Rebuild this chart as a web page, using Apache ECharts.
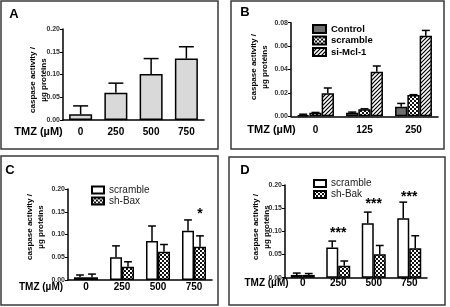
<!DOCTYPE html>
<html>
<head>
<meta charset="utf-8">
<script src="https://cdn.jsdelivr.net/npm/echarts@6/dist/echarts.min.js"></script>
<style>
  html, body { margin: 0; padding: 0; background: #fff; }
  #chart { width: 450px; height: 307px; }
</style>
</head>
<body>
<div id="chart"></div>
<script>
const FONT = '"Liberation Sans", Arial, sans-serif'

// panel A
const catsA = ['0', '250', '500', '750']
const meanA = [0.0125, 0.060, 0.101, 0.135]
const errA = [0.0185, 0.021, 0.034, 0.026]

// panel B
const catsB = ['0', '125', '250']
const ctrlB = [0.001, 0.003, 0.0082]
const ctrlErrB = [0.0008, 0.0006, 0.0028]
const scrB = [0.003, 0.006, 0.0182]
const scrErrB = [0.0003, 0.0004, 0.0003]
const siB = [0.0197, 0.038, 0.0689]
const siErrB = [0.0045, 0.005, 0.0045]

// panel C
const catsC = ['0', '250', '500', '750']
const scrC = [0.006, 0.050, 0.0857, 0.108]
const scrErrC = [0.005, 0.025, 0.033, 0.024]
const baxC = [0.006, 0.029, 0.062, 0.073]
const baxErrC = [0.007, 0.011, 0.016, 0.024]
const starsC = [[3, 0.145, '*']]

// panel D
const catsD = ['0', '250', '500', '750']
const scrD = [0.006, 0.065, 0.1175, 0.128]
const scrErrD = [0.004, 0.014, 0.024, 0.035]
const bakD = [0.006, 0.026, 0.0505, 0.0635]
const bakErrD = [0.003, 0.010, 0.019, 0.027]
const starsD = [[1, 0.0965, '***'], [2, 0.158, '***'], [3, 0.174, '***']]

function checker() {
  const c = document.createElement('canvas')
  c.width = 4; c.height = 4
  const g = c.getContext('2d')
  g.fillStyle = '#111'
  g.fillRect(0, 0, 4, 4)
  g.fillStyle = '#fff'
  g.fillRect(0, 0, 2, 2)
  g.fillRect(2, 2, 2, 2)
  return { image: c, repeat: 'repeat' }
}

function hatch() {
  const s = 4
  const c = document.createElement('canvas')
  c.width = s; c.height = s
  const g = c.getContext('2d')
  g.fillStyle = '#fff'
  g.fillRect(0, 0, s, s)
  g.strokeStyle = '#000'
  g.lineWidth = 1.2
  g.beginPath()
  g.moveTo(0, s); g.lineTo(s, 0)
  g.moveTo(-1, 1); g.lineTo(1, -1)
  g.moveTo(s - 1, s + 1); g.lineTo(s + 1, s - 1)
  g.stroke()
  return { image: c, repeat: 'repeat' }
}

const CHECK = checker()
const HATCH = hatch()

function bars(gi, name, data, fill, w) {
  return {
    type: 'bar', name, xAxisIndex: gi, yAxisIndex: gi, data,
    barWidth: w, barGap: '0%', z: 3,
    itemStyle: { color: fill, borderColor: '#000', borderWidth: 1.5 },
  }
}

function errBars(gi, mean, err, idx, n, w) {
  return {
    type: 'custom', xAxisIndex: gi, yAxisIndex: gi, z: 1, silent: true,
    data: mean.map((m, i) => [i, m, m + err[i]]),
    renderItem: (params, api) => {
      const base = api.coord([api.value(0), api.value(1)])
      const top = api.coord([api.value(0), api.value(2)])
      const x = base[0] - (n * w) / 2 + w * (idx + 0.5)
      const cap = w * 0.65
      const st = { stroke: '#000', lineWidth: 1.5 }
      return {
        type: 'group',
        children: [
          { type: 'line', shape: { x1: x, y1: base[1], x2: x, y2: top[1] }, style: st },
          { type: 'line', shape: { x1: x - cap / 2, y1: top[1], x2: x + cap / 2, y2: top[1] }, style: st },
        ],
      }
    },
  }
}

function stars(gi, data, dx) {
  return {
    type: 'custom', xAxisIndex: gi, yAxisIndex: gi, z: 5, silent: true,
    data,
    renderItem: (params, api) => {
      const p = api.coord([api.value(0), api.value(1)])
      return {
        type: 'text', x: p[0] + dx, y: p[1],
        style: { text: data[params.dataIndex][2], font: 'bold 14px ' + FONT, fill: '#000', align: 'center', verticalAlign: 'middle' },
      }
    },
  }
}

function xAx(gi, cats, margin) {
  return {
    type: 'category', gridIndex: gi, data: cats,
    axisLine: { lineStyle: { color: '#000', width: 1.5 } },
    axisTick: { show: false },
    axisLabel: { margin, fontSize: 10, fontWeight: 'bold', color: '#000', fontFamily: FONT },
  }
}

function yAx(gi, max, interval) {
  return {
    type: 'value', gridIndex: gi, min: 0, max, interval,
    axisLine: { show: true, lineStyle: { color: '#000', width: 1.5 } },
    axisTick: { show: true, length: 3, lineStyle: { color: '#000', width: 1 } },
    splitLine: { show: false },
    axisLabel: { fontSize: 7, fontWeight: 'bold', color: '#333', margin: 3, fontFamily: FONT, formatter: (v) => v.toFixed(2) },
  }
}

function txt(x, y, text, font, rot) {
  return {
    type: 'text', x, y, rotation: rot || 0, silent: true,
    style: { text, font, fill: '#000', align: 'center', verticalAlign: 'middle', lineHeight: 11 },
  }
}

function frame(x, y, w, h) {
  return { type: 'rect', silent: true, shape: { x, y, width: w, height: h }, style: { fill: 'none', stroke: '#3a3a3a', lineWidth: 1.5 } }
}

const YNAME = 'caspase activity /\nµg protéins'
const legendBase = {
  orient: 'vertical', icon: 'rect', selectedMode: false,
  formatter: (n) => n.slice(2),
}

const chart = echarts.init(document.getElementById('chart'))

chart.setOption({
  animation: false,
  backgroundColor: '#fff',
  grid: [
    { left: 63, top: 29, width: 141, height: 91 },
    { left: 291, top: 22.7, width: 147, height: 93.6 },
    { left: 68, top: 189, width: 144, height: 91 },
    { left: 285, top: 185, width: 142, height: 92.7 },
  ],
  xAxis: [xAx(0, catsA, 7), xAx(1, catsB, 8.5), xAx(2, catsC, 2), xAx(3, catsD, 1)],
  yAxis: [yAx(0, 0.2, 0.05), yAx(1, 0.08, 0.02), yAx(2, 0.2, 0.05), yAx(3, 0.2, 0.05)],
  legend: [
    Object.assign({}, legendBase, {
      left: 307, top: 19, itemWidth: 13, itemHeight: 8, itemGap: 1.5,
      data: ['B:Control', 'B:scramble', 'B:si-Mcl-1'],
      textStyle: { fontSize: 9.5, fontWeight: 'bold', color: '#000', fontFamily: FONT },
    }),
    Object.assign({}, legendBase, {
      left: 86, top: 180, itemWidth: 12, itemHeight: 7, itemGap: 1,
      data: ['C:scramble', 'C:sh-Bax'],
      textStyle: { fontSize: 10, color: '#222', fontFamily: FONT },
    }),
    Object.assign({}, legendBase, {
      left: 308, top: 173.5, itemWidth: 12, itemHeight: 7, itemGap: 1,
      data: ['D:scramble', 'D:sh-Bak'],
      textStyle: { fontSize: 10, color: '#222', fontFamily: FONT },
    }),
  ],
  series: [
    bars(0, 'A:mean', meanA, '#d9d9d9', 23),
    errBars(0, meanA, errA, 0, 1, 23),

    bars(1, 'B:Control', ctrlB, '#6e6e6e', 12.3),
    bars(1, 'B:scramble', scrB, CHECK, 12.3),
    bars(1, 'B:si-Mcl-1', siB, HATCH, 12.3),
    errBars(1, ctrlB, ctrlErrB, 0, 3, 12.3),
    errBars(1, scrB, scrErrB, 1, 3, 12.3),
    errBars(1, siB, siErrB, 2, 3, 12.3),

    bars(2, 'C:scramble', scrC, '#fff', 12),
    bars(2, 'C:sh-Bax', baxC, CHECK, 12),
    errBars(2, scrC, scrErrC, 0, 2, 12),
    errBars(2, baxC, baxErrC, 1, 2, 12),
    stars(2, starsC, 6),

    bars(3, 'D:scramble', scrD, '#fff', 12),
    bars(3, 'D:sh-Bak', bakD, CHECK, 12),
    errBars(3, scrD, scrErrD, 0, 2, 12),
    errBars(3, bakD, bakErrD, 1, 2, 12),
    stars(3, starsD, 0),
  ],
  graphic: [
    frame(1, 1, 217, 148),
    frame(231, 1, 213, 148),
    frame(1, 156, 217, 149),
    frame(229, 157, 216, 148),

    txt(14, 14, 'A', 'bold 13px ' + FONT),
    txt(245, 12, 'B', 'bold 13px ' + FONT),
    txt(10, 170, 'C', 'bold 13px ' + FONT),
    txt(245, 170, 'D', 'bold 13px ' + FONT),

    txt(38, 80, YNAME, 'bold 8px ' + FONT, Math.PI / 2),
    txt(259.5, 67, YNAME, 'bold 8px ' + FONT, Math.PI / 2),
    txt(35.5, 227, YNAME, 'bold 8px ' + FONT, Math.PI / 2),
    txt(261.5, 227, YNAME, 'bold 8px ' + FONT, Math.PI / 2),

    txt(38.5, 132, 'TMZ (µM)', 'bold 11px ' + FONT),
    txt(271.5, 130, 'TMZ (µM)', 'bold 11px ' + FONT),
    txt(41, 287, 'TMZ (µM)', 'bold 10px ' + FONT),
    txt(266.5, 283, 'TMZ (µM)', 'bold 10px ' + FONT),
  ],
})
</script>
</body>
</html>
